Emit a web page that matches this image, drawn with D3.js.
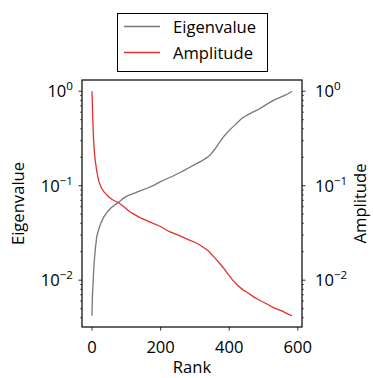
<!DOCTYPE html>
<html>
<head>
<meta charset="utf-8">
<script src="https://cdn.jsdelivr.net/npm/d3@7"></script>
<style>
  html, body { margin: 0; padding: 0; background: #fff; }
  svg { display: block; font-family: "Open Sans", "Noto Sans", sans-serif; }
</style>
</head>
<body>
<svg id="chart" width="373" height="378"></svg>
<script>
// Eigenvalue spectrum (ascending) and amplitude (descending) against rank
const eigenRank = [0, 1, 3, 6, 10, 14, 20, 27, 35, 45, 55, 65, 78, 90, 100, 110, 122, 140, 160, 180, 197, 215, 235, 255, 270, 284, 300, 320, 335, 345, 357, 371, 386, 400, 414, 426, 438, 455, 470, 481, 495, 510, 530, 545, 560, 572, 583];
const eigenValue = [0.0042, 0.0065, 0.0093, 0.015, 0.022, 0.029, 0.035, 0.041, 0.047, 0.053, 0.058, 0.062, 0.067, 0.073, 0.077, 0.080, 0.083, 0.088, 0.094, 0.101, 0.109, 0.117, 0.126, 0.137, 0.146, 0.156, 0.168, 0.183, 0.198, 0.212, 0.240, 0.285, 0.338, 0.385, 0.43, 0.475, 0.52, 0.565, 0.605, 0.63, 0.675, 0.73, 0.805, 0.85, 0.9, 0.94, 1.0];

const ampRank = [0, 1, 2, 4, 6, 9, 13, 17, 20, 27, 35, 42, 49, 60, 70, 78, 90, 100, 110, 122, 140, 168, 200, 226, 255, 284, 299, 313, 325, 338, 352, 366, 381, 395, 410, 425, 440, 453, 470, 490, 510, 530, 555, 570, 583];
const ampValue = [1.0, 0.75, 0.55, 0.34, 0.25, 0.19, 0.15, 0.125, 0.111, 0.095, 0.086, 0.081, 0.076, 0.071, 0.068, 0.066, 0.061, 0.057, 0.053, 0.050, 0.046, 0.0415, 0.037, 0.0326, 0.0296, 0.0265, 0.0252, 0.0237, 0.0222, 0.0206, 0.0182, 0.016, 0.0138, 0.0118, 0.010, 0.0088, 0.0079, 0.0074, 0.0067, 0.0061, 0.0056, 0.0051, 0.0047, 0.0044, 0.0042];

const xTicks = [0, 200, 400, 600];
const yTicks = [1, 0.1, 0.01];
const yTickExp = ["0", "\u22121", "\u22122"];
const seriesNames = ["Eigenvalue", "Amplitude"];
const seriesColors = ["#777777", "#e0302b"];

const svg = d3.select("#chart");
const plot = { left: 82, right: 302, top: 80, bottom: 327 };

// x domain with 5% padding on each side
const allRanks = eigenRank.concat(ampRank);
const xMin = d3.min(allRanks), xMax = d3.max(allRanks);
const xPad = (xMax - xMin) * 0.05;
const x = d3.scaleLinear().domain([xMin - xPad, xMax + xPad]).range([plot.left, plot.right]);

// log y domain with 5% padding in log space
const allVals = eigenValue.concat(ampValue);
const lMin = Math.log10(d3.min(allVals)), lMax = Math.log10(d3.max(allVals));
const lPad = (lMax - lMin) * 0.05;
const y = d3.scaleLog().domain([Math.pow(10, lMin - lPad), Math.pow(10, lMax + lPad)]).range([plot.bottom, plot.top]);

const fs = 16.6;

// minor log ticks inside the domain
const minorTicks = [];
for (let e = -3; e <= 0; e++) {
  for (let m = 2; m <= 9; m++) {
    const v = m * Math.pow(10, e);
    if (v >= y.domain()[0] && v <= y.domain()[1]) minorTicks.push(v);
  }
}

function drawYAxis(xPos, dir) {
  const g = svg.append("g");
  g.selectAll("line.major").data(yTicks).join("line")
    .attr("x1", xPos).attr("x2", xPos + dir * 3.5)
    .attr("y1", d => y(d)).attr("y2", d => y(d))
    .attr("stroke", "#000").attr("stroke-width", 0.8);
  g.selectAll("line.minor").data(minorTicks).join("line")
    .attr("x1", xPos).attr("x2", xPos + dir * 2)
    .attr("y1", d => y(d)).attr("y2", d => y(d))
    .attr("stroke", "#000").attr("stroke-width", 0.6);
  const labels = g.selectAll("text").data(yTicks).join("text")
    .attr("x", dir < 0 ? xPos - 9 : xPos + 13)
    .attr("y", d => y(d) + 6)
    .attr("text-anchor", dir < 0 ? "end" : "start")
    .attr("font-size", fs).attr("fill", "#000");
  labels.append("tspan").text("10");
  labels.append("tspan").attr("dy", -7).attr("font-size", 11.6)
    .text((d, i) => yTickExp[i]);
}

drawYAxis(plot.left, -1);
drawYAxis(plot.right, 1);

// x axis ticks and labels
const xg = svg.append("g");
xg.selectAll("line").data(xTicks).join("line")
  .attr("x1", d => x(d)).attr("x2", d => x(d))
  .attr("y1", plot.bottom).attr("y2", plot.bottom + 3.5)
  .attr("stroke", "#000").attr("stroke-width", 0.8);
xg.selectAll("text").data(xTicks).join("text")
  .attr("x", d => x(d)).attr("y", plot.bottom + 26)
  .attr("text-anchor", "middle").attr("font-size", fs)
  .text(d => d);

// series lines
const line = d3.line().x(d => x(d[0])).y(d => y(d[1]));
svg.append("path")
  .datum(d3.zip(eigenRank, eigenValue))
  .attr("d", line).attr("fill", "none")
  .attr("stroke", seriesColors[0]).attr("stroke-width", 1.3);
svg.append("path")
  .datum(d3.zip(ampRank, ampValue))
  .attr("d", line).attr("fill", "none")
  .attr("stroke", seriesColors[1]).attr("stroke-width", 1.3);

// frame
svg.append("rect")
  .attr("x", plot.left).attr("y", plot.top)
  .attr("width", plot.right - plot.left).attr("height", plot.bottom - plot.top)
  .attr("fill", "none").attr("stroke", "#000").attr("stroke-width", 1.2);

// axis titles
svg.append("text")
  .attr("x", (plot.left + plot.right) / 2).attr("y", 373)
  .attr("text-anchor", "middle").attr("font-size", fs).text("Rank");
svg.append("text")
  .attr("transform", `translate(24,${(plot.top + plot.bottom) / 2}) rotate(-90)`)
  .attr("text-anchor", "middle").attr("font-size", fs).text(seriesNames[0]);
svg.append("text")
  .attr("transform", `translate(366,${(plot.top + plot.bottom) / 2}) rotate(-90)`)
  .attr("text-anchor", "middle").attr("font-size", fs).text(seriesNames[1]);

// legend
const lg = svg.append("g");
lg.append("rect")
  .attr("x", 117.5).attr("y", 13.5).attr("width", 150).attr("height", 58)
  .attr("fill", "#fff").attr("stroke", "#000").attr("stroke-width", 1);
seriesNames.forEach((name, i) => {
  const yy = 26.5 + i * 26;
  lg.append("line")
    .attr("x1", 124).attr("x2", 160).attr("y1", yy).attr("y2", yy)
    .attr("stroke", seriesColors[i]).attr("stroke-width", 1.3);
  lg.append("text")
    .attr("x", 173).attr("y", yy + 6)
    .attr("font-size", fs).text(name);
});
</script>
</body>
</html>
